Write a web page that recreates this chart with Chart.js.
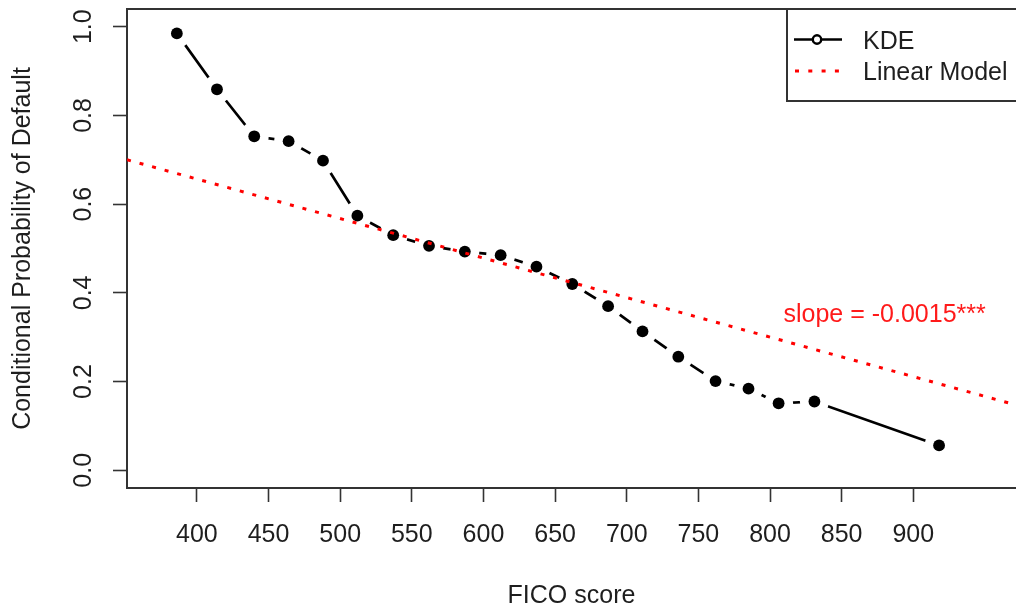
<!DOCTYPE html>
<html>
<head>
<meta charset="utf-8">
<script src="https://cdn.jsdelivr.net/npm/chart.js@4.4.1/dist/chart.umd.min.js"></script>
<style>
  html, body { margin: 0; padding: 0; background: #ffffff; overflow: hidden; }
  #wrap { position: relative; width: 1016px; height: 614px; }
</style>
</head>
<body>
<div id="wrap"><canvas id="c" width="1016" height="614"></canvas></div>
<script>
// ---- data ----
const fico = [386, 414, 440, 464, 488, 512, 537, 562, 587, 612, 637, 662, 687, 711, 736, 762, 785, 806, 831, 918];
const kde  = [0.985, 0.859, 0.753, 0.742, 0.698, 0.574, 0.530, 0.506, 0.493, 0.485, 0.459, 0.420, 0.370, 0.313, 0.256, 0.201, 0.184, 0.151, 0.155, 0.056];
const xTicks = [400, 450, 500, 550, 600, 650, 700, 750, 800, 850, 900];
const yTicks = [0.0, 0.2, 0.4, 0.6, 0.8, 1.0];
const lmIntercept = 1.013;
const lmSlope = -0.000891;
const seriesNames = ['KDE', 'Linear Model'];
const slopeLabel = 'slope = -0.0015***';
const slopeAnchor = { x: 880, y: 0.35 };
const xTitle = 'FICO score';
const yTitle = 'Conditional Probability of Default';

// ---- axis limits ----
const xMin = 351.2, xMax = 971.7;
const yMin = -0.04, yMax = 1.04;

const FONT = '"Liberation Sans", Arial, sans-serif';
const TXT = '#1e1e1e';
const AX = '#333333';

const kdePts = fico.map((x, i) => ({ x: x, y: kde[i] }));
const lmPts = [xMin, xMax].map(x => ({ x: x, y: lmIntercept + lmSlope * x }));

function noPad(s) { s.paddingLeft = 0; s.paddingRight = 0; s.paddingTop = 0; s.paddingBottom = 0; }

const overlay = {
  id: 'overlay',
  afterDraw(chart) {
    const ctx = chart.ctx;
    const ca = chart.chartArea;
    const xs = chart.scales.x, ys = chart.scales.y;
    ctx.save();
    // slope annotation
    ctx.fillStyle = '#ff1a1a';
    ctx.font = '25px ' + FONT;
    ctx.textAlign = 'center';
    ctx.textBaseline = 'middle';
    ctx.fillText(slopeLabel, xs.getPixelForValue(slopeAnchor.x), ys.getPixelForValue(slopeAnchor.y));

    // legend box (top-right, clipped on the right like the reference)
    const lx = ca.right - 229, ly = ca.top, lh = 92;
    ctx.strokeStyle = AX;
    ctx.lineWidth = 2;
    ctx.strokeRect(lx, ly, 260, lh);

    // KDE entry
    ctx.strokeStyle = '#000';
    ctx.lineWidth = 2.7;
    ctx.beginPath();
    ctx.moveTo(lx + 7, ly + 30.5);
    ctx.lineTo(lx + 55, ly + 30.5);
    ctx.stroke();
    ctx.beginPath();
    ctx.arc(lx + 30, ly + 30.5, 4.2, 0, Math.PI * 2);
    ctx.fillStyle = '#fff';
    ctx.fill();
    ctx.lineWidth = 2.4;
    ctx.stroke();

    // Linear model entry
    ctx.strokeStyle = '#ff0000';
    ctx.lineWidth = 3;
    ctx.setLineDash([4, 9.3]);
    ctx.beginPath();
    ctx.moveTo(lx + 8, ly + 62);
    ctx.lineTo(lx + 52, ly + 62);
    ctx.stroke();
    ctx.setLineDash([]);

    ctx.fillStyle = TXT;
    ctx.font = '25px ' + FONT;
    ctx.textAlign = 'left';
    ctx.textBaseline = 'middle';
    ctx.fillText(seriesNames[0], lx + 76, ly + 33.5);
    ctx.fillText(seriesNames[1], lx + 76, ly + 64.5);
    ctx.restore();
  }
};

new Chart(document.getElementById('c'), {
  type: 'line',
  data: {
    datasets: [
      { // linear model, drawn on top
        label: seriesNames[1],
        data: lmPts,
        borderColor: '#ff0000',
        borderWidth: 3,
        borderDash: [4, 9],
        borderCapStyle: 'butt',
        pointRadius: 0,
        fill: false,
        order: 0
      },
      { // KDE points
        label: seriesNames[0] + ' points',
        data: kdePts,
        showLine: false,
        pointRadius: 5.9,
        pointBackgroundColor: '#000',
        pointBorderWidth: 0,
        order: 1
      },
      { // gaps around the points (type = "b")
        label: 'gap',
        data: kdePts,
        showLine: false,
        pointRadius: 14.5,
        pointBackgroundColor: '#ffffff',
        pointBorderWidth: 0,
        order: 2
      },
      { // KDE connecting line
        label: seriesNames[0],
        data: kdePts,
        borderColor: '#000',
        borderWidth: 2.7,
        pointRadius: 0,
        tension: 0,
        fill: false,
        order: 3
      }
    ]
  },
  options: {
    responsive: false,
    animation: false,
    events: [],
    layout: { autoPadding: false, padding: { left: 0, right: 0, top: 0, bottom: 0 } },
    plugins: {
      legend: { display: false },
      tooltip: { enabled: false }
    },
    scales: {
      x: {
        type: 'linear',
        position: 'bottom',
        min: xMin,
        max: xMax,
        afterFit: s => { s.height = 126; noPad(s); },
        afterBuildTicks: s => { s.ticks = xTicks.map(v => ({ value: v })); },
        ticks: {
          autoSkip: false,
          maxRotation: 0,
          minRotation: 0,
          padding: 18,
          color: TXT,
          font: { family: FONT, size: 25 },
          callback: v => String(v)
        },
        grid: { display: true, drawOnChartArea: false, drawTicks: true, tickLength: 14, tickWidth: 1.6, tickColor: AX, color: AX },
        border: { display: true, color: AX, width: 2 },
        title: { display: true, text: xTitle, color: TXT, font: { family: FONT, size: 25 }, padding: { top: 0, bottom: 3 } }
      },
      x2: {
        type: 'linear',
        position: 'top',
        min: xMin,
        max: xMax,
        afterFit: s => { s.height = 9; noPad(s); },
        ticks: { display: false },
        grid: { display: false, drawTicks: false },
        border: { display: true, color: AX, width: 2 }
      },
      y: {
        type: 'linear',
        position: 'left',
        min: yMin,
        max: yMax,
        afterFit: s => { s.width = 127; noPad(s); },
        afterBuildTicks: s => { s.ticks = yTicks.map(v => ({ value: v })); },
        ticks: {
          autoSkip: false,
          minRotation: 90,
          maxRotation: 90,
          crossAlign: 'center',
          padding: 12,
          color: TXT,
          font: { family: FONT, size: 25 },
          callback: v => Number(v).toFixed(1)
        },
        grid: { display: true, drawOnChartArea: false, drawTicks: true, tickLength: 14, tickWidth: 1.6, tickColor: AX, color: AX },
        border: { display: true, color: AX, width: 2 },
        title: { display: true, text: yTitle, color: TXT, font: { family: FONT, size: 25 }, padding: { top: 8, bottom: 0 } }
      }
    }
  },
  plugins: [overlay]
});
</script>
</body>
</html>
